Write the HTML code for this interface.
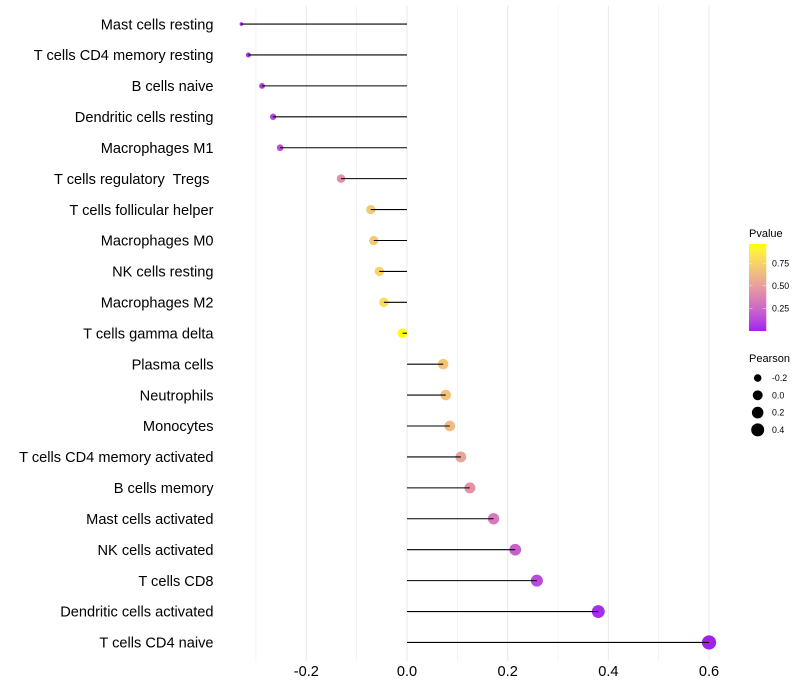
<!DOCTYPE html>
<html>
<head>
<meta charset="utf-8">
<title>Lollipop chart</title>
<style>
html,body{margin:0;padding:0;background:#fff;width:800px;height:700px;overflow:hidden}
svg{display:block}
text{font-family:"Liberation Sans",Arial,sans-serif;white-space:pre}
</style>
</head>
<body>
<svg id="chart" width="800" height="700" viewBox="0 0 800 700" xmlns="http://www.w3.org/2000/svg"></svg>
<script>
const categories = ["Mast cells resting","T cells CD4 memory resting","B cells naive","Dendritic cells resting","Macrophages M1","T cells regulatory  Tregs ","T cells follicular helper","Macrophages M0","NK cells resting","Macrophages M2","T cells gamma delta","Plasma cells","Neutrophils","Monocytes","T cells CD4 memory activated","B cells memory","Mast cells activated","NK cells activated","T cells CD8","Dendritic cells activated","T cells CD4 naive"];
const pearson = [-0.329,-0.315,-0.288,-0.266,-0.252,-0.131,-0.072,-0.066,-0.055,-0.046,-0.009,0.072,0.077,0.085,0.107,0.125,0.172,0.215,0.258,0.38,0.6];
const pvalue = [0.03,0.04,0.07,0.10,0.14,0.43,0.70,0.70,0.76,0.80,0.96,0.68,0.67,0.63,0.53,0.45,0.33,0.22,0.13,0.04,0.003];
const xMajorTicks = [-0.2,0,0.2,0.4,0.6];
const xMinorTicks = [-0.3,-0.1,0.1,0.3,0.5];
const xTickLabels = ["-0.2","0.0","0.2","0.4","0.6"];
const pvalueTicks = [0.25,0.5,0.75];
const pvalueTickLabels = ["0.25","0.50","0.75"];
const pearsonLegendValues = [-0.2,0,0.2,0.4];
const pearsonLegendLabels = ["-0.2","0.0","0.2","0.4"];

const NS = "http://www.w3.org/2000/svg";
const svg = document.getElementById("chart");
function mk(tag, attrs, parent) {
  const el = document.createElementNS(NS, tag);
  for (const k in attrs) el.setAttribute(k, attrs[k]);
  (parent || svg).appendChild(el);
  return el;
}
const x = v => 407 + v * 503.4;
const rowStep = 655.5 / (categories.length - 1 + 1.2);
const y = i => 5.5 + (0.6 + i) * rowStep;
const minV = Math.min(...pearson), maxV = Math.max(...pearson);
const radius = v => 1.8 + 5.3 * Math.sqrt(Math.max(0, (v - minV) / (maxV - minV)));

function toLab(c) {
  const f = u => { u /= 255; return u > 0.04045 ? Math.pow((u + 0.055) / 1.055, 2.4) : u / 12.92; };
  const r = f(c[0]), g = f(c[1]), b = f(c[2]);
  const X = (0.4124 * r + 0.3576 * g + 0.1805 * b) / 0.95047;
  const Y = 0.2126 * r + 0.7152 * g + 0.0722 * b;
  const Z = (0.0193 * r + 0.1192 * g + 0.9505 * b) / 1.08883;
  const h = t => t > 0.008856 ? Math.cbrt(t) : 7.787 * t + 16 / 116;
  return [116 * h(Y) - 16, 500 * (h(X) - h(Y)), 200 * (h(Y) - h(Z))];
}
function fromLab(l) {
  const fy = (l[0] + 16) / 116, fx = fy + l[1] / 500, fz = fy - l[2] / 200;
  const h = t => t * t * t > 0.008856 ? t * t * t : (t - 16 / 116) / 7.787;
  const X = h(fx) * 0.95047, Y = h(fy), Z = h(fz) * 1.08883;
  const g = u => { const w = u > 0.0031308 ? 1.055 * Math.pow(u, 1 / 2.4) - 0.055 : 12.92 * u; return Math.round(Math.min(1, Math.max(0, w)) * 255); };
  return "rgb(" + g(3.2406 * X - 1.5372 * Y - 0.4986 * Z) + "," + g(-0.9689 * X + 1.8758 * Y + 0.0415 * Z) + "," + g(0.0557 * X - 0.204 * Y + 1.057 * Z) + ")";
}
const labLow = toLab([160, 32, 240]), labHigh = toLab([255, 255, 0]);
const minP = Math.min(...pvalue), maxP = Math.max(...pvalue);
function pColor(p) {
  const t = Math.min(1, Math.max(0, (p - minP) / (maxP - minP)));
  return fromLab(labLow.map((a, i) => a + (labHigh[i] - a) * t));
}

xMinorTicks.forEach(v => {
  const el = mk("line", { x1: x(v), x2: x(v), y1: 5.5, y2: 661, stroke: "#EBEBEB", "stroke-width": 0.55 });
  
  
});
xMajorTicks.forEach(v => {
  const el = mk("line", { x1: x(v), x2: x(v), y1: 5.5, y2: 661, stroke: "#EBEBEB", "stroke-width": 1.07 });
  
  
});

categories.forEach((name, i) => {
  const dot = mk("circle", { cx: x(pearson[i]), cy: y(i), r: radius(pearson[i]), fill: pColor(pvalue[i]) });
  
  
});
categories.forEach((name, i) => {
  const seg = mk("line", { x1: x(0), x2: x(pearson[i]), y1: y(i), y2: y(i), stroke: "#000", "stroke-width": 1.07 });
  
  
  const lab = mk("text", { x: 213.5, y: y(i) + 5.2, "text-anchor": "end", "font-size": 14.6, fill: "#000" });
  lab.textContent = name;
  
  
});
xMajorTicks.forEach((v, i) => {
  const t = mk("text", { x: x(v), y: 676, "text-anchor": "middle", "font-size": 14.6, fill: "#000" });
  t.textContent = xTickLabels[i];
  
  
});

const pTitle = mk("text", { x: 749, y: 237, "font-size": 11, fill: "#000" });
pTitle.textContent = "Pvalue";



const barTop = 244, barBottom = 331, barLeft = 749, barW = 17.3;
const barP = p => 331 - (p - 0.0) * 90.4;
const defs = mk("defs", {});
const grad = mk("linearGradient", { id: "pgrad", x1: 0, y1: 1, x2: 0, y2: 0 }, defs);
for (let k = 0; k <= 20; k++) {
  mk("stop", { offset: k / 20, "stop-color": pColor(minP + (maxP - minP) * k / 20) }, grad);
}
const bar = mk("rect", { x: barLeft, y: barTop, width: barW, height: barBottom - barTop, fill: "url(#pgrad)" });


pvalueTicks.forEach((p, i) => {
  const yy = barP(p);
  mk("line", { x1: barLeft, x2: barLeft + 3.5, y1: yy, y2: yy, stroke: "#fff", "stroke-width": 0.55, opacity: 0.8 });
  mk("line", { x1: barLeft + barW - 3.5, x2: barLeft + barW, y1: yy, y2: yy, stroke: "#fff", "stroke-width": 0.55, opacity: 0.8 });
  const t = mk("text", { x: 772, y: yy + 3.1, "font-size": 8.8, fill: "#000" });
  t.textContent = pvalueTickLabels[i];
  
  
});

const sTitle = mk("text", { x: 749, y: 362, "font-size": 11, fill: "#000" });
sTitle.textContent = "Pearson";


pearsonLegendValues.forEach((v, i) => {
  const yy = 378 + i * 17.3;
  const c = mk("circle", { cx: 757.7, cy: yy, r: radius(v), fill: "#000" });
  
  
  const t = mk("text", { x: 772, y: yy + 3.1, "font-size": 8.8, fill: "#000" });
  t.textContent = pearsonLegendLabels[i];
  
  
});
</script>
</body>
</html>
